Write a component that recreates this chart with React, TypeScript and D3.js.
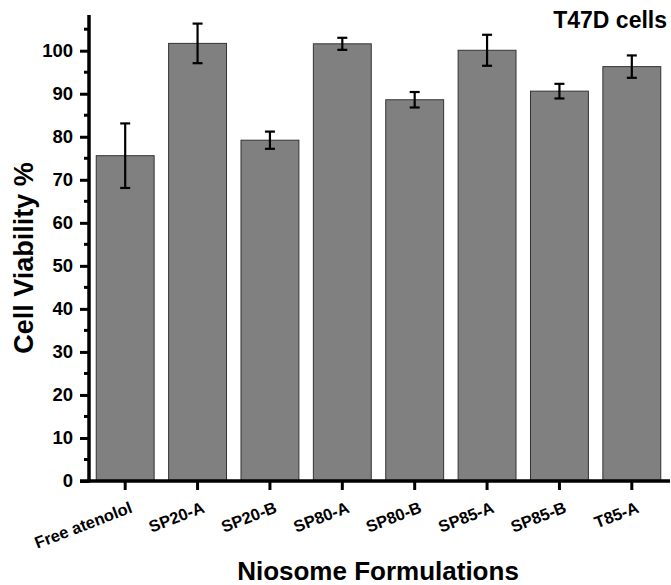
import React, { useEffect, useRef } from 'react'
import * as d3 from 'd3'

const categories = ['Free atenolol', 'SP20-A', 'SP20-B', 'SP80-A', 'SP80-B', 'SP85-A', 'SP85-B', 'T85-A']
const viability = [75.6, 101.7, 79.2, 101.6, 88.6, 100.1, 90.6, 96.3]
const errors = [7.5, 4.6, 2.0, 1.4, 1.8, 3.6, 1.7, 2.6]
const yTicks = [0, 10, 20, 30, 40, 50, 60, 70, 80, 90, 100]

const W = 671
const H = 585
const left = 89
const bottom = 481
const font = 'Liberation Sans, Arial, sans-serif'

export default function App() {
	const ref = useRef<SVGSVGElement>(null)

	useEffect(() => {
		const svg = d3.select(ref.current)
		svg.selectAll('*').remove()

		const x = d3.scaleBand().domain(categories).range([left, 668]).paddingInner(0.2).paddingOuter(0.1)
		const y = d3.scaleLinear().domain([0, 100]).range([bottom, 50.7])

		const data = categories.map((c, i) => ({ c, v: viability[i], e: errors[i] }))

		// bars
		svg
			.append('g')
			.selectAll('rect')
			.data(data)
			.enter()
			.append('rect')
			.attr('x', (d) => x(d.c)!)
			.attr('y', (d) => y(d.v))
			.attr('width', x.bandwidth())
			.attr('height', (d) => bottom - y(d.v))
			.attr('fill', '#808080')
			.attr('stroke', '#333')
			.attr('stroke-width', 1)

		// error bars
		const eb = svg.append('g').attr('stroke', '#000').attr('stroke-width', 2.2)
		data.forEach((d) => {
			const cx = x(d.c)! + x.bandwidth() / 2
			eb.append('line').attr('x1', cx).attr('x2', cx).attr('y1', y(d.v + d.e)).attr('y2', y(d.v - d.e))
			eb.append('line').attr('x1', cx - 5).attr('x2', cx + 5).attr('y1', y(d.v + d.e)).attr('y2', y(d.v + d.e))
			eb.append('line').attr('x1', cx - 5).attr('x2', cx + 5).attr('y1', y(d.v - d.e)).attr('y2', y(d.v - d.e))
		})

		// y axis
		const yAxis = svg
			.append('g')
			.attr('transform', `translate(${left},0)`)
			.call(d3.axisLeft(y).tickValues(yTicks).tickSize(9).tickPadding(7).tickFormat(d3.format('d')))
		yAxis.select('.domain').remove()
		yAxis.selectAll('line').attr('stroke', '#000').attr('stroke-width', 3)
		yAxis
			.selectAll('text')
			.attr('font-family', font)
			.attr('font-weight', 'bold')
			.attr('font-size', 18.5)
			.attr('fill', '#000')

		const minor = d3.range(5, 110, 10)
		svg
			.append('g')
			.selectAll('line')
			.data(minor)
			.enter()
			.append('line')
			.attr('x1', left - 5)
			.attr('x2', left)
			.attr('y1', (d) => y(d))
			.attr('y2', (d) => y(d))
			.attr('stroke', '#000')
			.attr('stroke-width', 3)

		svg
			.append('line')
			.attr('x1', left)
			.attr('x2', left)
			.attr('y1', y(108.3))
			.attr('y2', bottom + 1.5)
			.attr('stroke', '#000')
			.attr('stroke-width', 3.5)

		// x axis
		svg
			.append('line')
			.attr('x1', left - 9)
			.attr('x2', 670)
			.attr('y1', bottom)
			.attr('y2', bottom)
			.attr('stroke', '#000')
			.attr('stroke-width', 3.5)

		const xg = svg.append('g')
		categories.forEach((c) => {
			const cx = x(c)! + x.bandwidth() / 2
			xg.append('line')
				.attr('x1', cx)
				.attr('x2', cx)
				.attr('y1', bottom)
				.attr('y2', bottom + 9)
				.attr('stroke', '#000')
				.attr('stroke-width', 3)
			xg.append('text')
				.attr('transform', `translate(${cx + 8},${bottom + 31}) rotate(-21)`)
				.attr('text-anchor', 'end')
				.attr('font-family', font)
				.attr('font-weight', 'bold')
				.attr('font-size', 16.5)
				.attr('fill', '#000')
				.text(c)
		})

		// titles
		svg
			.append('text')
			.attr('x', 378)
			.attr('y', 580)
			.attr('text-anchor', 'middle')
			.attr('font-family', font)
			.attr('font-weight', 'bold')
			.attr('font-size', 26)
			.text('Niosome Formulations')

		svg
			.append('text')
			.attr('transform', `translate(33,258) rotate(-90)`)
			.attr('text-anchor', 'middle')
			.attr('font-family', font)
			.attr('font-weight', 'bold')
			.attr('font-size', 27)
			.text('Cell Viability %')

		svg
			.append('text')
			.attr('x', 667)
			.attr('y', 28)
			.attr('text-anchor', 'end')
			.attr('font-family', font)
			.attr('font-weight', 'bold')
			.attr('font-size', 23)
			.text('T47D cells')
	}, [])

	return (
		<svg
			ref={ref}
			width={W}
			height={H}
			style={{ position: 'absolute', left: 0, top: 0, background: '#fff' }}
		/>
	)
}
